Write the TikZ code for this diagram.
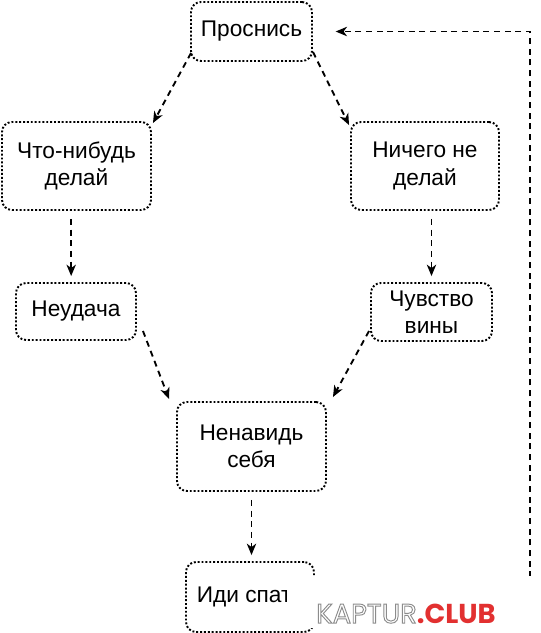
\documentclass[tikz,border=0pt]{standalone}
\usepackage{fontspec}
\setmainfont{Liberation Sans}
\newfontfamily\wmfont{Poppins}
\usetikzlibrary{arrows.meta}
\definecolor{wmred}{RGB}{226,48,48}
\definecolor{wmgray}{RGB}{140,140,140}
\newcommand\outlined[1]{\special{pdf:code q 1 Tr 0.7 w 0.55 G}#1\special{pdf:code Q}}

\tikzset{every picture/.style={line width=0.75pt}}
\tikzset{
  stepbox/.style={draw, line width=1.45pt, dash pattern=on 1.45pt off 1.45pt,
    rounded corners=7.5pt, align=center, inner sep=0.75pt,
    font=\fontsize{17}{20.5}\selectfont},
  flow/.style={line width=1.4pt, dash pattern=on 4.5pt off 3.5pt,
    -{Stealth[length=8.5pt,width=7pt,inset=2.5pt]}},
}

\begin{document}
\begin{tikzpicture}[x=0.75pt,y=0.75pt,yscale=-1,xscale=1]
\useasboundingbox (0,0) rectangle (541,633);

% Text Node
\node [stepbox, minimum width=90.75pt, minimum height=44.25pt] (wake) at (251.5,31.5) {Проснись};
% Text Node
\node [stepbox, minimum width=111.75pt, minimum height=66pt] (doit) at (76.5,166) {Что-нибудь\\делай};
% Text Node
\node [stepbox, minimum width=111pt, minimum height=66pt] (nothing) at (425,166) {Ничего не\\делай};
% Text Node
\node [stepbox, minimum width=90pt, minimum height=42.75pt] (fail) at (76,311.5) {Неудача};
% Text Node
\node [stepbox, minimum width=90.75pt, minimum height=43.5pt] (guilt) at (431.5,312) {Чувство\\вины};
% Text Node
\node [stepbox, minimum width=111.75pt, minimum height=66.75pt] (hate) at (251.5,446.5) {Ненавидь\\себя};
% Text Node
\node [stepbox, minimum width=96pt, minimum height=52.5pt] (sleep) at (250,597) {Иди спать};

%Straight Lines
\draw [flow] ([xshift=0.75pt,yshift=-6.75pt]wake.south west) -- ([xshift=0.75pt,yshift=1.5pt]doit.north east);
%Straight Lines
\draw [flow] ([yshift=-7.5pt]wake.south east) -- ([xshift=-0.75pt,yshift=3pt]nothing.north west);
%Straight Lines
\draw [flow, shorten <=6pt, shorten >=4.5pt] ([xshift=-4pt]doit.south) -- ([xshift=-4pt]doit.south |- fail.north);
%Straight Lines
\draw [flow, shorten <=6pt, shorten >=4.5pt] (nothing.south -| guilt.north) -- (guilt.north);
%Straight Lines
\draw [flow] ([xshift=4.5pt,yshift=-7.5pt]fail.south east) -- ([xshift=-5.25pt,yshift=-1.5pt]hate.north west);
%Straight Lines
\draw [flow] ([xshift=-0.75pt,yshift=-8.25pt]guilt.south west) -- ([xshift=4.5pt,yshift=-3pt]hate.north east);
%Straight Lines
\draw [flow, shorten <=6pt, shorten >=4.5pt] (hate.south) -- (hate.south |- sleep.north);

%Connector
\coordinate (turn) at (530,31.5);
\draw [flow, shorten >=17pt] (sleep.east) -| (turn) -- (wake.east);

%Shape: Rectangle
\fill [white] (287,576) rectangle (541,628);
% Text Node
\node [inner sep=0pt, font=\wmfont\fontsize{20.5}{20.5}\selectfont] (wm) at (406,613.5)
  {\outlined{KAPTUR}\textcolor{wmred}{\bfseries.CLUB}};

\end{tikzpicture}
\end{document}
